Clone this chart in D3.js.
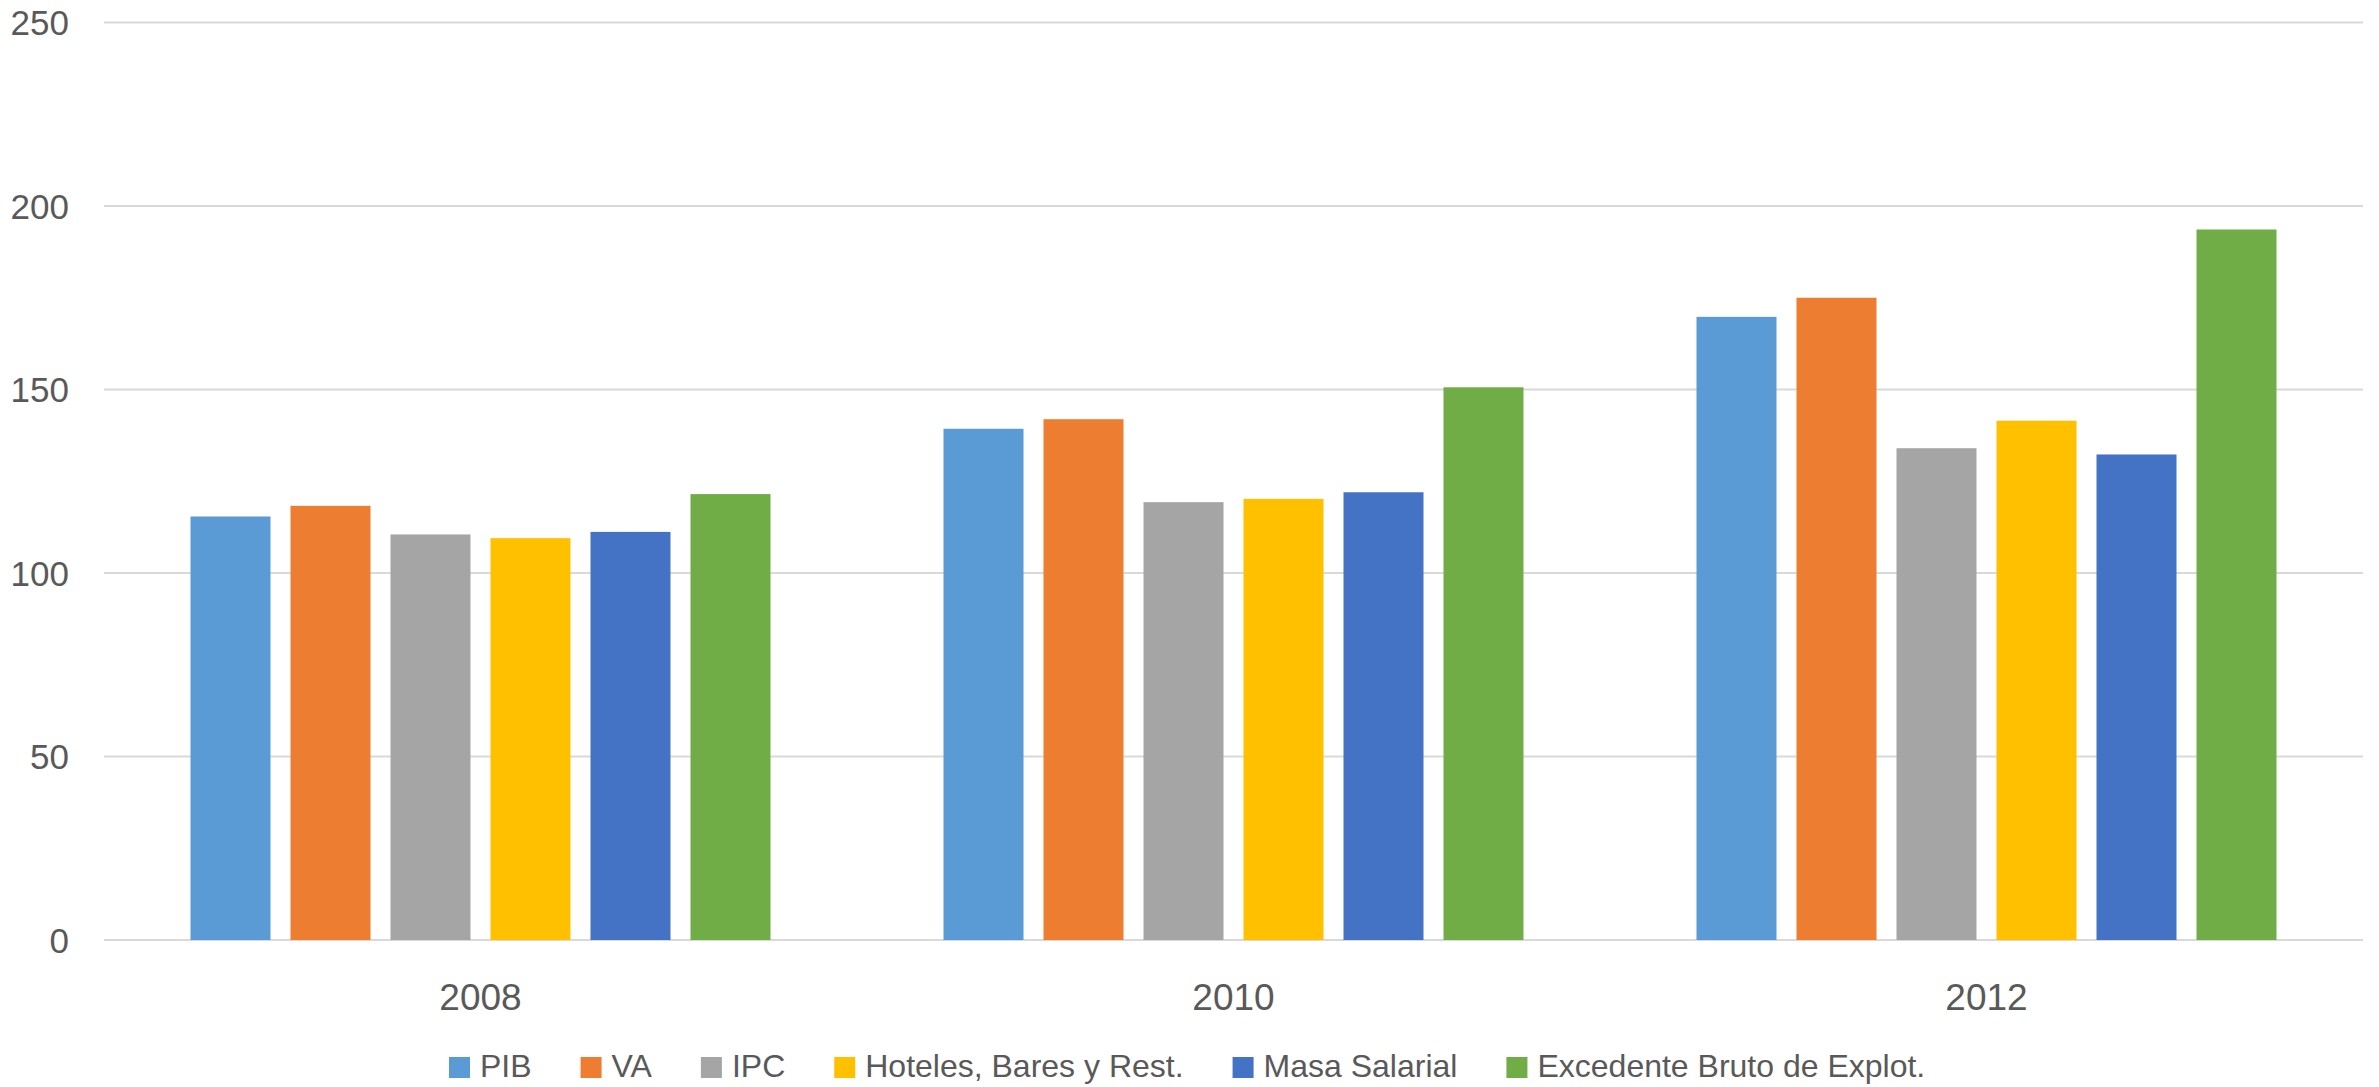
<!DOCTYPE html>
<html>
<head>
<meta charset="utf-8">
<script src="https://cdn.jsdelivr.net/npm/d3@7"></script>
<style>
  html, body { margin: 0; padding: 0; background: #ffffff; }
  svg { display: block; }
  text { font-family: "Liberation Sans", Arial, sans-serif; fill: #595959; }
</style>
</head>
<body>
<svg id="chart" width="2379" height="1087"></svg>
<script>
const categories = ["2008", "2010", "2012"];
const seriesNames = ["PIB", "VA", "IPC", "Hoteles, Bares y Rest.", "Masa Salarial", "Excedente Bruto de Explot."];
const seriesColors = ["#5B9BD5", "#ED7D31", "#A5A5A5", "#FFC000", "#4472C4", "#70AD47"];
const pib = [115.4, 139.3, 169.8];
const va = [118.3, 141.9, 175.0];
const ipc = [110.5, 119.3, 134.0];
const hoteles = [109.5, 120.2, 141.5];
const masaSalarial = [111.2, 122.0, 132.3];
const excedente = [121.5, 150.6, 193.6];
const yTicks = [0, 50, 100, 150, 200, 250];

const seriesValues = [pib, va, ipc, hoteles, masaSalarial, excedente];

(function () {
const svg = d3.select("#chart");
const plotLeft = 104, plotRight = 2363, plotTop = 22.5, plotBottom = 940;

const x0 = d3.scaleBand().domain(categories).range([plotLeft, plotRight]).padding(0);
const x1 = d3.scaleBand().domain(seriesNames).range([0, x0.bandwidth()])
  .paddingInner(0.2).paddingOuter(0.865);
const y = d3.scaleLinear().domain([0, 250]).range([plotBottom, plotTop]);

// gridlines
svg.append("g").selectAll("line").data(yTicks).join("line")
  .attr("x1", plotLeft).attr("x2", plotRight)
  .attr("y1", d => y(d)).attr("y2", d => y(d))
  .attr("stroke", "#D9D9D9").attr("stroke-width", 2);

// y tick labels
svg.append("g").selectAll("text").data(yTicks).join("text")
  .attr("x", 69).attr("y", d => y(d))
  .attr("text-anchor", "end").attr("dominant-baseline", "central")
  .style("font-size", "35px")
  .text(d => d);

// bars
const groups = svg.append("g").selectAll("g").data(categories).join("g")
  .attr("transform", c => `translate(${x0(c)},0)`);
groups.selectAll("rect")
  .data((c, ci) => seriesNames.map((s, si) => ({ s, si, v: seriesValues[si][ci] })))
  .join("rect")
  .attr("x", d => x1(d.s))
  .attr("width", x1.bandwidth())
  .attr("y", d => y(d.v))
  .attr("height", d => y(0) - y(d.v))
  .attr("fill", d => seriesColors[d.si]);

// x axis labels
svg.append("g").selectAll("text").data(categories).join("text")
  .attr("x", c => x0(c) + x0.bandwidth() / 2)
  .attr("y", 1010)
  .attr("text-anchor", "middle")
  .style("font-size", "37px")
  .text(c => c);

// legend
const legend = svg.append("g");
let lx = 449;
seriesNames.forEach((name, i) => {
  legend.append("rect")
    .attr("x", lx).attr("y", 1057).attr("width", 21).attr("height", 21)
    .attr("fill", seriesColors[i]);
  const t = legend.append("text")
    .attr("x", lx + 31).attr("y", 1077)
    .style("font-size", "32px")
    .text(name);
  const w = t.node().getComputedTextLength();
  lx = lx + 31 + w + 49;
});
})();
</script>
</body>
</html>
